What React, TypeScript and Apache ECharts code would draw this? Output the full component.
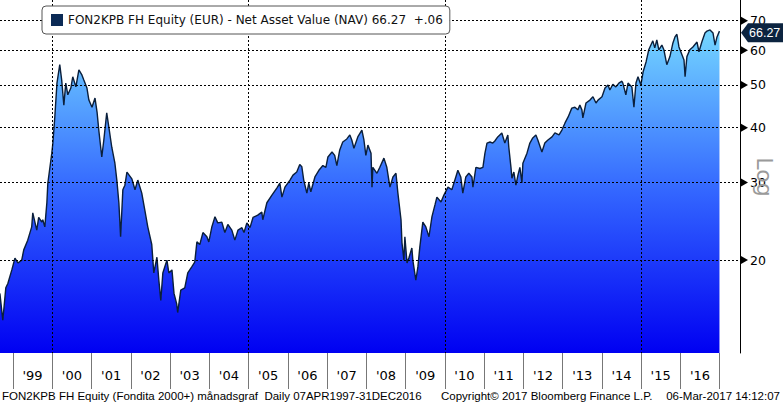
import React, { useEffect, useRef } from 'react';
import * as echarts from 'echarts';

const seriesName = 'FON2KPB FH Equity (EUR) - Net Asset Value (NAV) 66.27  +.06';
const footerLeft = 'FON2KPB FH Equity (Fondita 2000+) månadsgraf  Daily 07APR1997-31DEC2016';
const footerMid = 'Copyright© 2017 Bloomberg Finance L.P.';
const footerRight = '06-Mar-2017 14:12:07';
const axisTitle = 'Log';

const dates = [
  '1998-09-01','1998-09-28','1998-10-26','1998-11-14','1998-12-21',
  '1999-01-19','1999-02-16','1999-03-23','1999-04-11','1999-05-18','1999-06-24','1999-07-04','1999-08-10','1999-08-28','1999-09-26','1999-10-05','1999-10-24','1999-11-12','1999-11-21','1999-12-28',
  '2000-01-07','2000-01-25','2000-02-14','2000-03-11','2000-03-29','2000-04-18','2000-05-06','2000-05-25','2000-06-22','2000-07-10','2000-08-08','2000-09-05','2000-10-03','2000-10-21','2000-11-19','2000-12-07',
  '2001-01-05','2001-02-02','2001-02-21','2001-03-09','2001-04-06','2001-04-25','2001-05-22','2001-06-10','2001-07-08','2001-08-06','2001-08-24','2001-09-12','2001-09-28','2001-10-19','2001-11-07','2001-11-26',
  '2002-01-11','2002-02-09','2002-03-07','2002-04-13','2002-05-11','2002-06-08','2002-07-15','2002-08-03','2002-09-01','2002-09-19','2002-10-07','2002-10-26','2002-12-03','2002-12-21',
  '2003-01-19','2003-02-07','2003-03-04','2003-03-13','2003-04-11','2003-05-18','2003-06-15','2003-07-22','2003-08-19','2003-09-08','2003-10-05','2003-11-03','2003-12-10','2003-12-28',
  '2004-01-25','2004-02-23','2004-03-20','2004-04-27','2004-05-25','2004-06-22','2004-07-29','2004-08-26','2004-09-24','2004-10-31','2004-11-19','2004-12-16',
  '2005-01-14','2005-02-11','2005-03-27','2005-05-04','2005-05-13','2005-06-20','2005-08-06','2005-09-22','2005-10-19','2005-11-07','2005-12-05',
  '2006-01-21','2006-02-18','2006-03-25','2006-04-22','2006-05-11','2006-05-29','2006-06-27','2006-07-15','2006-08-03','2006-09-10','2006-10-17','2006-11-23','2006-12-21',
  '2007-01-09','2007-02-16','2007-03-13','2007-04-02','2007-04-29','2007-05-27','2007-07-04','2007-08-01','2007-08-19','2007-09-08','2007-10-14','2007-11-21','2007-12-10','2007-12-28',
  '2008-01-16','2008-02-14','2008-02-23','2008-03-02','2008-04-09','2008-05-06','2008-06-13','2008-07-10','2008-08-08','2008-09-05','2008-10-03','2008-10-21','2008-11-19','2008-11-28','2008-12-16','2008-12-25',
  '2009-01-14','2009-02-02','2009-02-28','2009-03-09','2009-04-06','2009-04-25','2009-05-13','2009-06-10','2009-07-08','2009-08-06','2009-09-03','2009-10-01','2009-10-19','2009-11-26','2009-12-23',
  '2010-01-30','2010-03-07','2010-04-13','2010-05-02','2010-05-29','2010-06-17','2010-07-15','2010-08-12','2010-09-10','2010-09-19','2010-10-17','2010-11-23','2010-12-21',
  '2011-01-09','2011-01-28','2011-02-25','2011-03-23','2011-04-11','2011-05-08','2011-06-15','2011-07-13','2011-08-10','2011-08-19','2011-09-08','2011-09-17','2011-10-05','2011-10-24','2011-11-12','2011-11-30','2011-12-19','2011-12-28',
  '2012-02-04','2012-03-02','2012-03-29','2012-04-27','2012-05-15','2012-06-22','2012-07-19','2012-08-17','2012-09-24','2012-10-21','2012-11-28','2012-12-25',
  '2013-01-23','2013-02-21','2013-03-27','2013-04-25','2013-05-22','2013-06-10','2013-06-29','2013-07-08','2013-08-06','2013-09-12','2013-10-10','2013-11-07','2013-11-26',
  '2014-01-02','2014-01-30','2014-02-27','2014-03-16','2014-04-13','2014-05-11','2014-06-08','2014-07-06','2014-07-15','2014-08-12','2014-09-01','2014-10-07','2014-10-26','2014-11-14','2014-12-03','2014-12-30',
  '2015-01-19','2015-02-16','2015-03-13','2015-04-20','2015-05-08','2015-05-27','2015-06-15','2015-07-13','2015-08-01','2015-08-28','2015-09-26','2015-10-24','2015-11-12','2015-11-30','2015-12-19',
  '2016-01-16','2016-02-04','2016-02-14','2016-03-02','2016-03-29','2016-04-27','2016-06-04','2016-06-22','2016-07-19','2016-08-17','2016-09-05','2016-10-03','2016-10-31','2016-11-19','2016-12-07','2016-12-30'
];

const navValues = [
  16.8,14.6,17.3,17.7,19.0,
  20.2,19.7,20.0,21.1,22.2,23.8,25.6,23.4,25.0,24.4,24.7,23.8,27.0,29.9,35.0,
  36.9,42.3,50.5,55.6,51.3,45.0,50.5,47.5,49.2,52.2,49.5,54.1,52.7,51.3,49.2,46.2,
  44.5,46.7,43.4,39.5,34.3,37.5,43.2,40.2,36.1,33.2,30.4,27.0,22.6,28.9,29.6,31.7,
  30.6,28.9,30.4,28.4,26.0,23.8,21.7,18.7,20.3,18.0,16.2,18.7,20.0,18.7,
  19.0,16.8,15.9,15.2,17.1,17.3,18.7,19.3,19.8,22.0,21.7,23.1,22.6,22.0,
  23.8,25.1,24.3,24.4,23.1,24.1,23.4,22.2,23.4,23.7,23.1,24.3,
  23.7,25.0,25.3,25.7,24.7,27.0,28.1,29.2,29.9,27.8,29.3,
  30.4,31.2,31.7,33.0,32.6,30.4,28.4,29.9,28.6,30.9,32.0,32.8,32.5,
  34.3,35.2,34.6,32.8,35.6,37.1,37.7,38.5,37.5,35.9,38.1,39.5,37.5,34.6,
  36.5,35.0,29.3,32.5,31.5,32.5,34.1,32.5,29.3,30.9,31.5,28.4,24.7,21.9,20.0,22.6,
  19.7,20.3,21.3,20.0,18.0,19.3,21.4,24.4,23.8,22.6,25.1,26.7,27.8,27.1,28.1,
  29.3,28.9,30.9,32.0,30.9,28.4,30.9,31.5,30.9,29.3,32.5,32.3,32.5,
  35.0,36.9,37.1,36.9,37.3,38.1,38.9,36.9,38.5,36.1,32.5,30.7,31.7,29.6,31.2,32.5,30.0,33.2,
  35.0,36.9,37.9,38.5,37.5,35.2,36.9,37.5,38.1,38.9,38.5,39.5,
  41.0,42.3,44.3,44.5,43.9,45.0,43.9,42.1,45.5,46.2,47.0,45.5,46.2,
  47.0,49.2,50.0,48.7,50.2,49.5,50.5,51.0,50.5,47.5,50.5,49.5,44.5,50.5,52.2,50.0,
  53.5,56.4,60.1,63.0,60.7,63.3,60.1,61.6,60.1,55.6,58.0,62.3,64.3,65.2,61.0,
  58.6,57.0,52.2,58.0,60.1,61.0,62.6,59.5,62.6,65.6,66.3,66.7,65.6,61.6,64.3,66.27
];

const yTickValues = [20, 30, 40, 50, 60, 70];
const yearTicks = [1999,2000,2001,2002,2003,2004,2005,2006,2007,2008,2009,2010,2011,2012,2013,2014,2015,2016,2017];
const yearLabels = [1999,2000,2001,2002,2003,2004,2005,2006,2007,2008,2009,2010,2011,2012,2013,2014,2015,2016];
const gridYears = [2000, 2005, 2010, 2015];
const lastValue = 66.27;
const yMinValue = 12.3;
const yMaxValue = 78;
const xStart = '1998-09-02';
const xEnd = '2017-07-09';

const FONT = 'DejaVu Sans';
const FONT2 = 'Liberation Sans';

const toTime = (s: string) => {
  const [y, m, d] = s.split('-').map(Number);
  return new Date(y, m - 1, d).getTime();
};

export default function App() {
  const ref = useRef<HTMLDivElement>(null);
  useEffect(() => {
    if (!ref.current) return;
    const chart = echarts.init(ref.current, null, { renderer: 'svg' });
    const xMin = toTime(xStart);
    const xMax = toTime(xEnd);
    const data = dates.map((d, i) => [toTime(d), Math.log(navValues[i])]);
    const option: any = {
      animation: false,
      textStyle: { fontFamily: FONT },
      grid: { left: 0, right: 43, top: 0, bottom: 51, containLabel: false },
      legend: {
        show: true,
        left: 42,
        top: 6,
        icon: 'rect',
        itemWidth: 12,
        itemHeight: 12,
        padding: [8, 7, 8, 9],
        backgroundColor: '#fff',
        borderColor: '#555',
        borderWidth: 1,
        borderRadius: 4,
        selectedMode: false,
        textStyle: { fontSize: 12, color: '#111', fontFamily: FONT },
        data: [{ name: seriesName, itemStyle: { color: '#0b2a55' } }],
      },
      xAxis: [
        {
          type: 'value',
          min: xMin,
          max: xMax,
          position: 'bottom',
          axisLine: { show: false },
          axisTick: {
            show: true,
            customValues: yearTicks.map((y) => new Date(y, 0, 1).getTime()),
            length: 36,
            lineStyle: { color: '#777', width: 1 },
          },
          axisLabel: {
            customValues: yearLabels.map((y) => new Date(y, 6, 2).getTime()),
            formatter: (v: number) => "'" + String(new Date(v).getFullYear()).slice(2),
            color: '#000',
            fontSize: 13,
            margin: 16,
            fontFamily: FONT,
          },
          splitLine: { show: false },
        },
        {
          type: 'value',
          min: xMin,
          max: xMax,
          position: 'top',
          z: 3,
          axisLine: { show: false },
          axisTick: { show: false, customValues: gridYears.map((y) => new Date(y, 0, 1).getTime()) },
          axisLabel: { show: false, customValues: gridYears.map((y) => new Date(y, 0, 1).getTime()) },
          splitLine: { show: true, lineStyle: { color: '#000', type: [2, 2], width: 1 } },
        },
      ],
      yAxis: {
        type: 'value',
        position: 'right',
        min: Math.log(yMinValue),
        max: Math.log(yMaxValue),
        z: 3,
        axisLine: { show: true, lineStyle: { color: '#000', width: 1 } },
        axisTick: { show: false, customValues: yTickValues.map((v) => Math.log(v)) },
        axisLabel: {
          customValues: yTickValues.map((v) => Math.log(v)),
          formatter: (v: number) => String(Math.round(Math.exp(v))),
          color: '#000',
          fontSize: 12.5,
          margin: 10,
          fontFamily: FONT,
        },
        splitLine: { show: true, lineStyle: { color: '#000', type: [2, 2], width: 1 } },
      },
      series: [
        {
          type: 'line',
          name: seriesName,
          data,
          xAxisIndex: 0,
          showSymbol: false,
          symbol: 'none',
          z: 2,
          lineStyle: { color: '#0a1f3c', width: 1.4 },
          itemStyle: { color: '#0b2a55' },
          areaStyle: {
            opacity: 1,
            color: new echarts.graphic.LinearGradient(0, 0, 0, 1, [
              { offset: 0, color: '#74d6ff' },
              { offset: 0.5, color: '#3366ff' },
              { offset: 1, color: '#0000f2' },
            ]),
          },
        },
      ],
    };
    chart.setOption(option);

    const yPix = (v: number) => chart.convertToPixel({ yAxisIndex: 0 }, Math.log(v)) as number;
    const axisX = chart.convertToPixel({ xAxisIndex: 0 }, xMax) as number;
    const graphics: any[] = [];
    yTickValues.forEach((v, i) => {
      const y = yPix(v);
      graphics.push({
        type: 'polygon',
        id: 'tri' + i,
        z: 10,
        shape: { points: [[axisX + 1, y - 4], [axisX + 8, y], [axisX + 1, y + 4]] },
        style: { fill: '#000' },
      });
    });
    const yl = yPix(lastValue) + 1.5;
    graphics.push({
      type: 'polygon',
      id: 'tag',
      z: 20,
      shape: {
        points: [[axisX + 1, yl], [axisX + 8, yl - 9.5], [783, yl - 9.5], [783, yl + 9.5], [axisX + 8, yl + 9.5]],
      },
      style: { fill: '#0c2440' },
    });
    graphics.push({
      type: 'text',
      id: 'tagText',
      z: 21,
      x: axisX + 9,
      y: yl,
      style: { text: lastValue.toFixed(2), fill: '#fff', fontSize: 12.5, fontFamily: FONT2, verticalAlign: 'middle', align: 'left' },
    });
    graphics.push({
      type: 'text',
      id: 'logTitle',
      z: 5,
      x: 764,
      y: 177,
      rotation: -Math.PI / 2,
      style: { text: axisTitle, fill: '#9a9a9a', fontSize: 22, fontFamily: FONT, align: 'center', verticalAlign: 'middle' },
    });
    graphics.push({
      type: 'text', id: 'f1', x: 2, y: 396,
      style: { text: footerLeft, fill: '#000', fontSize: 11.5, fontFamily: FONT2, verticalAlign: 'middle', align: 'left' },
    });
    graphics.push({
      type: 'text', id: 'f2', x: 441, y: 396,
      style: { text: footerMid, fill: '#000', fontSize: 11.5, fontFamily: FONT2, verticalAlign: 'middle', align: 'left' },
    });
    graphics.push({
      type: 'text', id: 'f3', x: 780, y: 396,
      style: { text: footerRight, fill: '#000', fontSize: 11.5, fontFamily: FONT2, verticalAlign: 'middle', align: 'right' },
    });
    chart.setOption({ graphic: graphics });

    return () => chart.dispose();
  }, []);
  return <div ref={ref} style={{ position: 'fixed', left: 0, top: 0, width: 783, height: 404, background: '#fff' }} />;
}
